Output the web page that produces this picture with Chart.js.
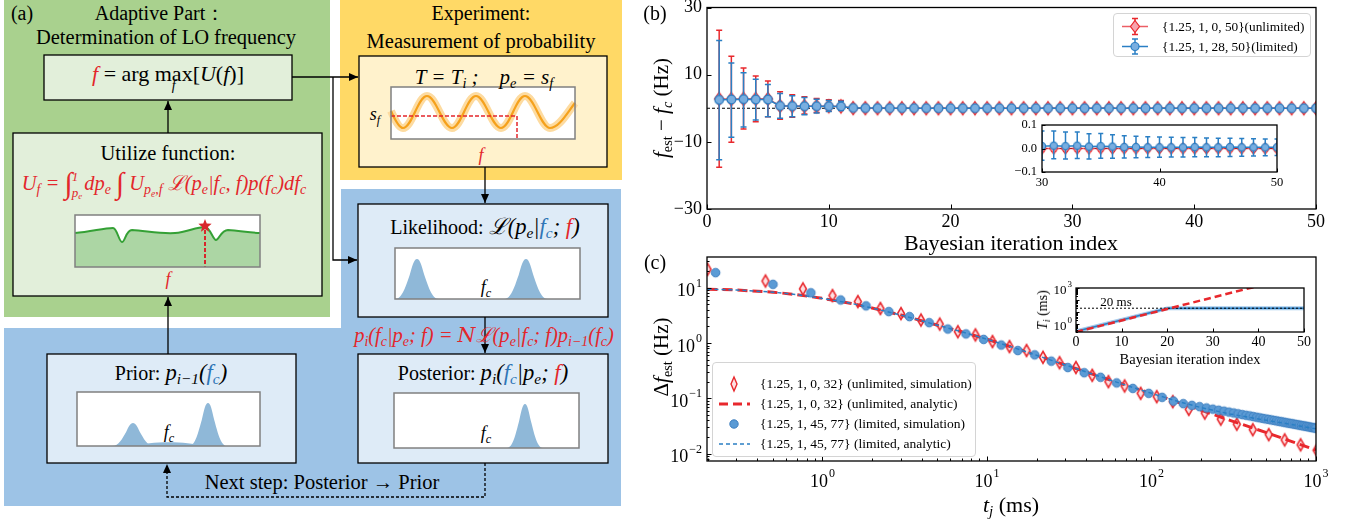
<!DOCTYPE html>
<html>
<head>
<meta charset="UTF-8">
<title>Adaptive Bayesian frequency estimation</title>
<script src="https://cdn.jsdelivr.net/npm/chart.js@4.4.1/dist/chart.umd.min.js"></script>
<style>
  body { margin: 0; background: #fff; }
  #page { position: relative; width: 1361px; height: 527px; overflow: hidden; font-family: "Liberation Serif", "Times New Roman", serif; color: #000; }
  .t { position: absolute; white-space: nowrap; transform: translate(-50%, -50%); font-size: 20px; line-height: 1; }
  .vt { position: absolute; white-space: nowrap; transform: translate(-50%, -50%) rotate(-90deg); font-size: 21px; line-height: 1; }
  .m { font-style: italic; }
  .mm { font-style: italic; font-size: 1.13em; }
  .r { color: #e3262b; }
  .bl { color: #2e75b6; }
  sub { font-size: 0.68em; vertical-align: -0.3em; line-height: 0; }
  sup { font-size: 0.68em; vertical-align: 0.5em; line-height: 0; }
  .int { font-size: 1.45em; vertical-align: -0.12em; }
  .lims { display: inline-flex; flex-direction: column; font-size: 13px; line-height: 1.25; vertical-align: middle; margin: 0 2px 0 -1px; }
  .under { display: inline-block; position: relative; }
  .under > span { position: absolute; left: 50%; top: 72%; transform: translateX(-50%); font-size: 14px; }
  canvas { position: absolute; }
  .lg { position: absolute; border: 1px solid #d4d4d4; border-radius: 4px; background: rgba(255,255,255,0.85); }
  .row { position: absolute; white-space: nowrap; line-height: 1; transform: translateY(-50%); }
  .sym { position: absolute; }
</style>
</head>
<body>
<div id="page">

  <!-- panel (a): schematic -->
  <svg width="640" height="527" style="position:absolute;left:0;top:0">
    <defs>
      <marker id="ah" markerUnits="userSpaceOnUse" markerWidth="9" markerHeight="8" refX="9" refY="4" orient="auto">
        <path d="M0,0 L9,4 L0,8 z" fill="#000"/>
      </marker>
    </defs>
    <rect x="4" y="0" width="326" height="317" fill="#a9d18e"/>
    <rect x="340" y="0" width="282" height="180" fill="#ffd966"/>
    <path d="M341 189 H621 V506 H4 V328 H341 Z" fill="#9dc3e6"/>

    <rect x="44" y="55" width="248" height="45" fill="#e2efda" stroke="#000" stroke-width="1.3"/>
    <rect x="13" y="133" width="309" height="163" fill="#e2efda" stroke="#000" stroke-width="1.3"/>
    <rect x="359" y="56" width="248" height="111" fill="#fff2cc" stroke="#000" stroke-width="1.3"/>
    <rect x="358" y="204" width="250" height="113" fill="#deebf7" stroke="#000" stroke-width="1.3"/>
    <rect x="47" y="354" width="249" height="109" fill="#deebf7" stroke="#000" stroke-width="1.3"/>
    <rect x="358" y="354" width="250" height="109" fill="#deebf7" stroke="#000" stroke-width="1.3"/>

    <!-- utilize function sketch -->
    <g transform="translate(75,215)">
      <rect x="0" y="0" width="185" height="52" fill="#fff"/>
      <path d="M0,18 C16,17 28,13 38,13 C42,13 44,27 47,27 C50,27 51,15 57,15 C72,16 86,19 100,18 C112,17 121,12 130,12 C135,12 138,25 141,25 C144,25 146,15 153,15 C166,16 176,18 185,18 L185,52 L0,52 Z" fill="#acd6a4"/>
      <path d="M0,18 C16,17 28,13 38,13 C42,13 44,27 47,27 C50,27 51,15 57,15 C72,16 86,19 100,18 C112,17 121,12 130,12 C135,12 138,25 141,25 C144,25 146,15 153,15 C166,16 176,18 185,18" fill="none" stroke="#34a035" stroke-width="2"/>
      <path d="M130,15 V52" stroke="#d8262c" stroke-width="2" stroke-dasharray="4,2"/>
      <polygon transform="translate(130,11)" points="0,-7 1.76,-2.43 6.66,-2.16 2.85,0.93 4.11,5.66 0,3 -4.11,5.66 -2.85,0.93 -6.66,-2.16 -1.76,-2.43" fill="#d8262c"/>
      <rect x="0" y="0" width="185" height="52" fill="none" stroke="#808080" stroke-width="1.5"/>
    </g>

    <!-- experiment sketch -->
    <g transform="translate(391,87)">
      <rect x="0" y="0" width="184" height="52" fill="#fff"/>
      <path d="M0,24 C4,33 8,41 12,41 C21,41 27,9 36,9 C45,9 52,41 61,41 C70,41 76,9 85,9 C94,9 101,41 110,41 C119,41 125,9 134,9 C143,9 150,41 159,41 C168,41 176,26 184,16" fill="none" stroke="#fddba0" stroke-width="8"/>
      <path d="M0,24 C4,33 8,41 12,41 C21,41 27,9 36,9 C45,9 52,41 61,41 C70,41 76,9 85,9 C94,9 101,41 110,41 C119,41 125,9 134,9 C143,9 150,41 159,41 C168,41 176,26 184,16" fill="none" stroke="#f5a11c" stroke-width="2.2"/>
      <path d="M0,29 H126 V52" fill="none" stroke="#e3262b" stroke-width="1.5" stroke-dasharray="4,2"/>
      <rect x="0" y="0" width="184" height="52" fill="none" stroke="#808080" stroke-width="1.5"/>
    </g>

    <!-- likelihood / prior / posterior sketches -->
    <g transform="translate(395,248)">
      <rect x="0" y="0" width="185" height="51" fill="#fff"/>
      <path id="lk1" fill="#8fb8d8"/><path id="lk2" fill="#8fb8d8"/>
      <rect x="0" y="0" width="185" height="51" fill="none" stroke="#808080" stroke-width="1.5"/>
    </g>
    <g transform="translate(77,392)">
      <rect x="0" y="0" width="183" height="54" fill="#fff"/>
      <path d="M58,54 C72,49 112,49 124,54 Z" fill="#8fb8d8"/>
      <path id="pr1" fill="#8fb8d8"/><path id="pr2" fill="#8fb8d8"/>
      <rect x="0" y="0" width="183" height="54" fill="none" stroke="#808080" stroke-width="1.5"/>
    </g>
    <g transform="translate(394,393)">
      <rect x="0" y="0" width="185" height="55" fill="#fff"/>
      <path id="po1" fill="#8fb8d8"/>
      <rect x="0" y="0" width="185" height="55" fill="none" stroke="#808080" stroke-width="1.5"/>
    </g>

    <!-- arrows -->
    <g stroke="#000" stroke-width="1.3" fill="none">
      <path d="M292,77 H358" marker-end="url(#ah)"/>
      <path d="M333,77 V260 H357" marker-end="url(#ah)"/>
      <path d="M168,133 V101" marker-end="url(#ah)"/>
      <path d="M168,354 V297" marker-end="url(#ah)"/>
      <path d="M485,167 V203" marker-end="url(#ah)"/>
      <path d="M485,317 V353" marker-end="url(#ah)"/>
      <path d="M485,463 V497 H167 V464" stroke-dasharray="3,2" marker-end="url(#ah)"/>
    </g>
  </svg>

  <div class="t" style="left:22px;top:13px">(a)</div>
  <div class="t" style="left:160px;top:13px">Adaptive Part：</div>
  <div class="t" style="left:166px;top:37px;font-size:20.5px">Determination of LO frequency</div>
  <div class="t" style="left:168px;top:74px;font-size:22px"><span class="m r">f</span> = arg <span class="under">max<span class="m">f</span></span>[<span class="m">U</span>(<span class="m">f</span>)]</div>
  <div class="t" style="left:168px;top:153px;font-size:20.5px">Utilize function:</div>
  <div class="t r m" style="left:164px;top:185px;font-size:20.5px">U<sub>f</sub> = <span class="int">∫</span><span class="lims"><span>1</span><span>p<sub>e</sub></span></span>dp<sub>e</sub> <span class="int">∫</span> U<sub>p<sub>e</sub>,f</sub> ℒ(p<sub>e</sub>|f<sub>c</sub>, f)p(f<sub>c</sub>)df<sub>c</sub></div>
  <div class="t r m" style="left:168px;top:279px;font-size:18px">f</div>

  <div class="t" style="left:481px;top:13px">Experiment:</div>
  <div class="t" style="left:481px;top:41px;font-size:20.5px">Measurement of probability</div>
  <div class="t m" style="left:484px;top:77px;font-size:21px">T = T<sub>i</sub> ;&nbsp;&nbsp;&nbsp; p<sub>e</sub> = s<sub>f</sub></div>
  <div class="t m" style="left:375px;top:114px;font-size:18px">s<sub>f</sub></div>
  <div class="t r m" style="left:481px;top:155px;font-size:18px">f</div>

  <div class="t" style="left:485px;top:227px">Likelihood: <span class="mm">ℒ(p<sub>e</sub>|<span class="bl">f<sub>c</sub></span>; <span class="r">f</span>)</span></div>
  <div class="t m" style="left:486px;top:287px;font-size:18px">f<sub>c</sub></div>
  <div class="t r m" style="left:484px;top:335px;font-size:20.5px">p<sub>i</sub>(f<sub>c</sub>|p<sub>e</sub>; f) = <span style="font-family:'DejaVu Serif'">N</span>ℒ(p<sub>e</sub>|f<sub>c</sub>; f)p<sub>i−1</sub>(f<sub>c</sub>)</div>
  <div class="t" style="left:171px;top:373px">Prior: <span class="mm">p<sub>i−1</sub>(<span class="bl">f<sub>c</sub></span>)</span></div>
  <div class="t m" style="left:169px;top:432px;font-size:18px">f<sub>c</sub></div>
  <div class="t" style="left:483px;top:373px">Posterior: <span class="mm">p<sub>i</sub>(<span class="bl">f<sub>c</sub></span>|p<sub>e</sub>; <span class="r">f</span>)</span></div>
  <div class="t m" style="left:486px;top:433px;font-size:18px">f<sub>c</sub></div>
  <div class="t" style="left:322px;top:482px;font-size:20.5px">Next step: Posterior → Prior</div>

  <!-- panel (b) -->
  <canvas id="chartB" width="721" height="250" style="left:640px;top:0"></canvas>
  <canvas id="chartBin" width="300" height="85" style="left:990px;top:110px"></canvas>
  <div class="t" style="left:655px;top:13px">(b)</div>
  <div class="vt" style="left:661px;top:108px"><span class="m">f</span><sub>est</sub> − <span class="m">f<sub>c</sub></span> (Hz)</div>
  <div class="t" style="left:1011px;top:243px;font-size:22px">Bayesian iteration index</div>
  <div class="lg" style="left:1113px;top:13px;width:196px;height:42px;font-size:13.3px">
    <svg class="sym" width="40" height="42" style="left:0;top:0">
      <path d="M8,12.5 H34" stroke="rgba(230,40,50,0.75)" stroke-width="1.5"/>
      <path d="M21,4.5 V20.5 M18,4.5 H24 M18,20.5 H24" stroke="#e8282d" stroke-width="1.5"/>
      <path d="M21,6.5 L25.5,12.5 L21,18.5 L16.5,12.5 Z" fill="#f7a3ad" stroke="#e8282d" stroke-width="1.2"/>
      <path d="M8,32.5 H34" stroke="#2a7fc4" stroke-width="1.5"/>
      <path d="M21,25 V40 M18,25 H24 M18,40 H24" stroke="#2a7fc4" stroke-width="1.5"/>
      <circle cx="21" cy="32.5" r="4" fill="#79aee0" stroke="#2a7fc4" stroke-width="1.2"/>
    </svg>
    <div class="row" style="left:48px;top:13px">{1.25, 1, 0, 50}(unlimited)</div>
    <div class="row" style="left:48px;top:33px">{1.25, 1, 28, 50}(limited)</div>
  </div>

  <!-- panel (c) -->
  <canvas id="chartC" width="721" height="277" style="left:640px;top:250px"></canvas>
  <canvas id="chartCin" width="290" height="75" style="left:1030px;top:278px"></canvas>
  <div class="t" style="left:655px;top:262px">(c)</div>
  <div class="vt" style="left:661px;top:357px">Δ<span class="m">f</span><sub>est</sub> (Hz)</div>
  <div class="t" style="left:1011px;top:505px;font-size:22px"><span class="m">t<sub>j</sub></span> (ms)</div>
  <div class="vt" style="left:1043px;top:310px;font-size:14px"><span class="m">T<sub>i</sub></span> (ms)</div>
  <div class="t" style="left:1190px;top:359px;font-size:14.5px">Bayesian iteration index</div>
  <div class="t" style="left:1116px;top:301px;font-size:13px">20 ms</div>
  <div class="lg" style="left:712px;top:362px;width:262px;height:93px;font-size:13.5px">
    <svg class="sym" width="44" height="93" style="left:0;top:0">
      <path d="M21,14 L24,21 L21,28 L18,21 Z" fill="#fde0e2" stroke="#e8282d" stroke-width="1.4"/>
      <path d="M6,41 H37" stroke="#e8282d" stroke-width="3" stroke-dasharray="9,5"/>
      <circle cx="21" cy="61" r="4.2" fill="#5b9bd5" stroke="#3d7ebf" stroke-width="1"/>
      <path d="M6,81 H37" stroke="#2a7fc4" stroke-width="1.5" stroke-dasharray="4,3"/>
    </svg>
    <div class="row" style="left:47px;top:21px">{1.25, 1, 0, 32} (unlimited, simulation)</div>
    <div class="row" style="left:47px;top:41px">{1.25, 1, 0, 32} (unlimited, analytic)</div>
    <div class="row" style="left:47px;top:61px">{1.25, 1, 45, 77} (limited, simulation)</div>
    <div class="row" style="left:47px;top:81px">{1.25, 1, 45, 77} (limited, analytic)</div>
  </div>
</div>

<script>
// ---------- data: panel (b), Bayesian iterations ----------
const iterations = [1,2,3,4,5,6,7,8,9,10,11,12,13,14,15,16,17,18,19,20,21,22,23,24,25,26,27,28,29,30,31,32,33,34,35,36,37,38,39,40,41,42,43,44,45,46,47,48,49,50];
const unlimitedMean = [2.8,2.7,2.8,2.8,2.8,0.7,0.65,0.6,0.6,0.6,0.55,0.05,0.02,0.01,0.01,0,0,0,0,0,0,0,0,0,0,0,0,0,0,0,0,0,0,0,0,0,0,0,0,0,0,0,0,0,0,0,0,0,0,0];
const unlimitedHi = [23.2,15.5,12.0,9.6,8.1,4.9,4.0,3.4,2.9,2.5,2.3,0.5,0.35,0.25,0.18,0.12,0.09,0.07,0.05,0.04,0.035,0.03,0.025,0.02,0.02,0.018,0.016,0.015,0.014,0.013,0.012,0.012,0.012,0.011,0.011,0.011,0.01,0.01,0.01,0.01,0.01,0.01,0.01,0.01,0.01,0.01,0.01,0.01,0.01,0.01];
const unlimitedLo = [-17.6,-10.1,-6.2,-4.0,-2.5,-3.3,-2.7,-1.7,-1.3,-0.9,-0.6,-0.4,-0.3,-0.22,-0.16,-0.12,-0.09,-0.07,-0.05,-0.04,-0.035,-0.03,-0.025,-0.02,-0.02,-0.018,-0.016,-0.015,-0.014,-0.013,-0.012,-0.012,-0.012,-0.011,-0.011,-0.011,-0.01,-0.01,-0.01,-0.01,-0.01,-0.01,-0.01,-0.01,-0.01,-0.01,-0.01,-0.01,-0.01,-0.01];
const limitedMean = [2.5,2.6,2.7,2.6,2.6,0.7,0.65,0.6,0.6,0.6,0.55,0.08,0.05,0.04,0.03,0.025,0.02,0.02,0.015,0.015,0.012,0.012,0.012,0.01,0.01,0.01,0.01,0.01,0.01,0.01,0.012,0.01,0.012,0.008,0.01,0.008,0.006,0.006,0.005,0.005,0.005,0.005,0.006,0.005,0.005,0.006,0.005,0.005,0.005,0.005];
const limitedHi = [20.2,13.5,10.6,8.6,7.1,4.4,3.7,3.2,2.7,2.3,2.1,0.6,0.45,0.35,0.28,0.22,0.18,0.15,0.13,0.11,0.1,0.09,0.085,0.08,0.078,0.076,0.074,0.072,0.07,0.075,0.074,0.07,0.07,0.063,0.064,0.058,0.054,0.052,0.05,0.049,0.048,0.047,0.047,0.045,0.044,0.044,0.043,0.041,0.04,0.04];
const limitedLo = [-15.3,-8.6,-5.6,-3.5,-2.5,-3.0,-2.5,-1.9,-1.4,-1.0,-0.7,-0.45,-0.35,-0.28,-0.22,-0.17,-0.14,-0.12,-0.1,-0.09,-0.08,-0.075,-0.07,-0.065,-0.06,-0.058,-0.056,-0.055,-0.054,-0.05,-0.044,-0.045,-0.043,-0.045,-0.041,-0.042,-0.04,-0.039,-0.038,-0.037,-0.036,-0.036,-0.035,-0.035,-0.035,-0.034,-0.033,-0.032,-0.031,-0.03];
const bXTicks = [0, 10, 20, 30, 40, 50];
const bYTicks = [-30, -10, 10, 30];
const bInXTicks = [30, 40, 50];
const bInYTicks = [-0.1, 0, 0.1];
const bInYLabels = ['−0.1', '0.0', '0.1'];

// ---------- data: panel (c), uncertainty vs total time ----------
const unlimitedT = [0.2,0.45,0.76,1.15,1.64,2.25,3.0,3.97,5.16,6.65,8.5,10.8,13.7,17.4,21.9,27.6,34.7,43.6,54.7,68.6,85.9,107.6,134.7,168.5,210.9,263.8,329.9,412.6,516,645,806,1008];
const unlimitedSim = [21.5,13.2,9.5,7.2,5.6,4.2,3.4,2.6,2.2,1.6,1.4,1.06,0.86,0.73,0.55,0.44,0.36,0.26,0.20,0.167,0.123,0.107,0.087,0.063,0.054,0.042,0.034,0.027,0.022,0.0177,0.0144,0.0115];
const limitedT = [0.224,0.50,0.85,1.29,1.84,2.53,3.38,4.45,5.78,7.45,9.54,12.2,15.4,19.5,24.6,31.0,39.0,49.0,61.4,77.0,96.2,116,136,156,176,196,216,236,256,276,296,316,336,356,376,396,416,436,456,476,496,516,536,556,576,596,616,636,656,676,696,716,736,756,776,796,816,836,856,876,896,916,936,956,976,996];
const limitedSim = [18.7,11.5,8.1,6.0,4.7,3.7,3.0,2.33,1.79,1.46,1.16,0.92,0.73,0.61,0.47,0.36,0.29,0.24,0.19,0.151,0.123,0.104,0.089,0.080,0.0745,0.0706,0.0669,0.0637,0.0609,0.0585,0.0563,0.0543,0.0525,0.0508,0.0493,0.048,0.0467,0.0455,0.0443,0.0433,0.0423,0.0415,0.0406,0.0398,0.039,0.0383,0.0376,0.037,0.0363,0.0357,0.0352,0.0347,0.0341,0.0336,0.0331,0.0327,0.0322,0.0318,0.0314,0.031,0.0306,0.0302,0.0298,0.0295,0.0292,0.0288];
const analyticT = [0.2,0.3,0.5,0.7,1,1.5,2,3,5,7,10,15,20,30,50,70,100,150,200,300,500,700,1000];
const unlimitedAnalytic = [9.4,9.1,8.3,7.5,6.4,5.2,4.3,3.2,2.1,1.6,1.17,0.8,0.6,0.40,0.24,0.172,0.123,0.082,0.061,0.040,0.024,0.0168,0.0116];
const limitedAnalytic = [9.4,9.1,8.3,7.5,6.4,5.2,4.3,3.2,2.1,1.6,1.17,0.8,0.6,0.40,0.24,0.172,0.123,0.085,0.068,0.052,0.040,0.034,0.028];
const cXTicks = [1, 10, 100, 1000];
const cXLabels = [['10', '0'], ['10', '1'], ['10', '2'], ['10', '3']];
const cYTicks = [0.01, 0.1, 1, 10];
const cYLabels = [['10', '−2'], ['10', '−1'], ['10', '0'], ['10', '1']];

// inset (c): interrogation time per iteration
const insetIter = [0, 10, 20, 30, 40, 50];
const unlimitedTi = [0.2, 1.86, 17.3, 161, 1500, 14000];
const limitedIter = [0, 10, 20, 21, 30, 40, 50];
const limitedTi = [0.224, 2.08, 19.4, 20, 20, 20, 20];
const limitTi = 20;
const cInXTicks = [0, 10, 20, 30, 40, 50];
const cInYTicks = [1, 1000];
const cInYLabels = [['10', '0'], ['10', '3']];

// ---------- sketch bells for panel (a) ----------
function bell(x, s, h, b) {
  const p = (a, c) => a.toFixed(1) + ',' + c.toFixed(1);
  return 'M' + p(x - 3 * s, b) + ' C' + p(x - 2 * s, b) + ' ' + p(x - 1.5 * s, b - 0.35 * h) + ' ' + p(x - s, b - 0.6 * h) +
    ' C' + p(x - 0.6 * s, b - 0.85 * h) + ' ' + p(x - 0.4 * s, b - h) + ' ' + p(x, b - h) +
    ' C' + p(x + 0.4 * s, b - h) + ' ' + p(x + 0.6 * s, b - 0.85 * h) + ' ' + p(x + s, b - 0.6 * h) +
    ' C' + p(x + 1.5 * s, b - 0.35 * h) + ' ' + p(x + 2 * s, b) + ' ' + p(x + 3 * s, b) + ' Z';
}
document.getElementById('lk1').setAttribute('d', bell(22, 7.3, 40, 51));
document.getElementById('lk2').setAttribute('d', bell(131, 7.3, 40, 51));
document.getElementById('pr1').setAttribute('d', bell(56, 7, 23, 54));
document.getElementById('pr2').setAttribute('d', bell(131, 6.3, 43, 54));
document.getElementById('po1').setAttribute('d', bell(131, 6, 44, 55));

// ---------- marker images ----------
function diamond(w, h, fill, stroke, lw) {
  const c = document.createElement('canvas');
  c.width = Math.ceil(w + 2 * lw + 2); c.height = Math.ceil(h + 2 * lw + 2);
  const g = c.getContext('2d'), cx = c.width / 2, cy = c.height / 2;
  g.beginPath(); g.moveTo(cx, cy - h / 2); g.lineTo(cx + w / 2, cy); g.lineTo(cx, cy + h / 2); g.lineTo(cx - w / 2, cy); g.closePath();
  g.fillStyle = fill; g.fill(); g.lineWidth = lw; g.strokeStyle = stroke; g.stroke();
  return c;
}
function dot(r, fill, stroke, lw) {
  const c = document.createElement('canvas');
  c.width = c.height = Math.ceil(2 * r + 2 * lw + 2);
  const g = c.getContext('2d');
  g.beginPath(); g.arc(c.width / 2, c.height / 2, r, 0, Math.PI * 2);
  g.fillStyle = fill; g.fill(); g.lineWidth = lw; g.strokeStyle = stroke; g.stroke();
  return c;
}
const RED = '#e8282d', BLUE = '#2a7fc4';
const bDia = diamond(9, 13, '#f7a3ad', RED, 1.3);
const bDot = dot(4.3, '#79aee0', BLUE, 1.2);
const bDiaS = diamond(8, 11, '#f7a3ad', RED, 1.2);
const bDotS = dot(3.6, '#79aee0', BLUE, 1.1);
const cDia = diamond(7, 12, '#fde0e2', RED, 1.5);
const cDot = dot(4.3, '#5b9bd5', '#3d7ebf', 1);

// ---------- plugins ----------
const FONT = '"Liberation Serif"';
function drawLabel(ctx, lab, px, py, axis, fs) {
  const base = Array.isArray(lab) ? lab[0] : String(lab);
  const exp = Array.isArray(lab) ? lab[1] : '';
  const fe = Math.round(fs * 0.68);
  ctx.font = fs + 'px ' + FONT;
  const wb = ctx.measureText(base).width;
  ctx.font = fe + 'px ' + FONT;
  const we = exp ? ctx.measureText(exp).width + 1 : 0;
  const w = wb + we;
  let x0, ym;
  if (axis === 'x') { x0 = px - w / 2; ym = py + fs * 0.55 + (exp ? fs * 0.3 : 0); }
  else { x0 = px - w; ym = py + (exp ? fs * 0.22 : 0); }
  ctx.textBaseline = 'middle'; ctx.textAlign = 'left';
  ctx.font = fs + 'px ' + FONT;
  ctx.fillText(base, x0, ym);
  if (exp) { ctx.font = fe + 'px ' + FONT; ctx.fillText(exp, x0 + wb + 1, ym - fs * 0.45); }
}
function minorLog(lo, hi) {
  const out = [];
  for (let e = -3; e <= 4; e++) for (let k = 2; k <= 9; k++) {
    const v = k * Math.pow(10, e);
    if (v >= lo && v <= hi) out.push(v);
  }
  return out;
}

const frame = {
  id: 'frame',
  beforeDraw(chart, args, o) {
    if (!o.fill) return;
    const { ctx, chartArea: a } = chart;
    ctx.save(); ctx.fillStyle = '#fff';
    ctx.fillRect(a.left, a.top, a.right - a.left, a.bottom - a.top);
    ctx.restore();
  },
  afterDraw(chart, args, o) {
    const { ctx, chartArea: a } = chart;
    ctx.save();
    ctx.strokeStyle = '#000'; ctx.fillStyle = '#000';
    ctx.lineWidth = 1;
    ['x', 'y'].forEach(k => {
      const s = chart.scales[k], t = o[k];
      const tick = (v, len) => {
        const p = Math.round(s.getPixelForValue(v)) + 0.5;
        ctx.beginPath();
        if (k === 'x') { ctx.moveTo(p, a.bottom); ctx.lineTo(p, a.bottom - len); }
        else { ctx.moveTo(a.left, p); ctx.lineTo(a.left + len, p); }
        ctx.stroke();
      };
      (t.minor || []).forEach(v => tick(v, t.minorLen || 2.5));
      t.major.forEach(v => tick(v, t.len || 4.5));
      t.major.forEach((v, i) => {
        const lab = t.labels ? t.labels[i] : String(v);
        if (lab === null) return;
        const p = s.getPixelForValue(v);
        if (k === 'x') drawLabel(ctx, lab, p, a.bottom + t.gap, 'x', t.font);
        else drawLabel(ctx, lab, a.left - t.gap, p, 'y', t.font);
      });
    });
    ctx.lineWidth = o.lw || 1.3;
    ctx.strokeRect(a.left, a.top, a.right - a.left, a.bottom - a.top);
    ctx.restore();
  }
};

const errorBars = {
  id: 'errorBars',
  beforeDatasetDraw(chart, args) {
    const ds = chart.data.datasets[args.index];
    if (!ds.errHi) return;
    const { ctx, chartArea: a } = chart;
    const xs = chart.scales.x, ys = chart.scales.y, cap = ds.errCap || 3;
    ctx.save();
    ctx.beginPath(); ctx.rect(a.left, a.top, a.right - a.left, a.bottom - a.top); ctx.clip();
    ctx.strokeStyle = ds.errColor; ctx.lineWidth = 1.5;
    ds.data.forEach((pt, i) => {
      const x = xs.getPixelForValue(pt.x);
      const y1 = ys.getPixelForValue(ds.errHi[i]), y2 = ys.getPixelForValue(ds.errLo[i]);
      ctx.beginPath();
      ctx.moveTo(x, y1); ctx.lineTo(x, y2);
      ctx.moveTo(x - cap, y1); ctx.lineTo(x + cap, y1);
      ctx.moveTo(x - cap, y2); ctx.lineTo(x + cap, y2);
      ctx.stroke();
    });
    ctx.restore();
  }
};

function opts(pad, xs, ys, frameCfg) {
  return {
    responsive: false, animation: false, events: [],
    layout: { padding: pad },
    scales: { x: Object.assign({ display: false }, xs), y: Object.assign({ display: false }, ys) },
    plugins: { legend: { display: false }, tooltip: { enabled: false }, frame: frameCfg }
  };
}
const pts = (xs, ys) => xs.map((x, i) => ({ x: x, y: ys[i] }));

// ---------- panel (b) ----------
function bSets(small) {
  return [
    { data: [{ x: 0, y: 0 }, { x: 50, y: 0 }], showLine: true, borderColor: '#000', borderWidth: 1, borderDash: [3, 2], pointRadius: 0, order: 3 },
    { data: pts(iterations, unlimitedMean), showLine: true, borderColor: 'rgba(230,40,50,0.75)', borderWidth: 1.5,
      pointStyle: small ? bDiaS : bDia, pointRadius: 6, errHi: unlimitedHi, errLo: unlimitedLo, errColor: RED, errCap: small ? 2.5 : 3, order: 2, clip: 0 },
    { data: pts(iterations, limitedMean), showLine: true, borderColor: BLUE, borderWidth: 1.5,
      pointStyle: small ? bDotS : bDot, pointRadius: 5, errHi: limitedHi, errLo: limitedLo, errColor: BLUE, errCap: small ? 2.5 : 3, order: 1, clip: 0 }
  ];
}
new Chart(document.getElementById('chartB'), {
  type: 'scatter',
  data: { datasets: bSets(false) },
  options: opts({ left: 67, top: 7, right: 45, bottom: 41 },
    { type: 'linear', min: 0, max: 50 }, { type: 'linear', min: -30, max: 30 },
    { x: { major: bXTicks, font: 18, gap: 3 }, y: { major: bYTicks, labels: bYTicks.map(v => v < 0 ? '−' + (-v) : String(v)), font: 18, gap: 5 } }),
  plugins: [frame, errorBars]
});
new Chart(document.getElementById('chartBin'), {
  type: 'scatter',
  data: { datasets: bSets(true) },
  options: opts({ left: 52, top: 15, right: 13, bottom: 23 },
    { type: 'linear', min: 30, max: 50 }, { type: 'linear', min: -0.1, max: 0.1 },
    { fill: true, x: { major: bInXTicks, font: 12.5, gap: 3.5, len: 3.5 }, y: { major: bInYTicks, labels: bInYLabels, font: 12.5, gap: 5, len: 3.5 } }),
  plugins: [frame, errorBars]
});

// ---------- panel (c) ----------
new Chart(document.getElementById('chartC'), {
  type: 'scatter',
  data: { datasets: [
    { data: pts(unlimitedT, unlimitedSim), pointStyle: cDia, pointRadius: 6, order: 4, clip: 0 },
    { data: pts(analyticT, unlimitedAnalytic), showLine: true, borderColor: RED, borderWidth: 3, borderDash: [10, 5], pointRadius: 0, order: 3, clip: 0 },
    { data: pts(limitedT, limitedSim), pointStyle: cDot, pointRadius: 5, order: 2, clip: 0 },
    { data: pts(analyticT, limitedAnalytic), showLine: true, borderColor: BLUE, borderWidth: 1.5, borderDash: [4, 3], pointRadius: 0, order: 1, clip: 0 }
  ] },
  options: opts({ left: 67, top: 7, right: 45, bottom: 66 },
    { type: 'logarithmic', min: 0.1986, max: 1000 }, { type: 'logarithmic', min: 0.00735, max: 35.9 },
    { x: { major: cXTicks, labels: cXLabels, minor: minorLog(0.1986, 1000), font: 18, gap: 5.5 },
      y: { major: cYTicks, labels: cYLabels, minor: minorLog(0.00735, 35.9), font: 18, gap: 5 } }),
  plugins: [frame]
});
new Chart(document.getElementById('chartCin'), {
  type: 'scatter',
  data: { datasets: [
    { data: [{ x: 0, y: limitTi }, { x: 50, y: limitTi }], showLine: true, borderColor: '#000', borderWidth: 1, borderDash: [2, 2], pointRadius: 0, order: 1 },
    { data: pts(limitedIter, limitedTi), showLine: true, borderColor: 'rgba(90,160,220,0.55)', borderWidth: 4, pointRadius: 0, order: 3, clip: 0 },
    { data: pts(limitedIter, limitedTi), showLine: true, borderColor: BLUE, borderWidth: 1.6, pointRadius: 0, order: 2, clip: 0 },
    { data: pts(insetIter, unlimitedTi), showLine: true, borderColor: RED, borderWidth: 2.5, borderDash: [7, 4], pointRadius: 0, order: 0, clip: 0 }
  ] },
  options: opts({ left: 46, top: 10, right: 16, bottom: 21 },
    { type: 'linear', min: 0, max: 50 }, { type: 'logarithmic', min: 0.2, max: 1000 },
    { fill: true, x: { major: cInXTicks, font: 14, gap: 2.5, len: 3.5 },
      y: { major: [1, 10, 100, 1000], labels: [cInYLabels[0], null, null, cInYLabels[1]], minor: minorLog(0.2, 1000), font: 13, gap: 4, len: 3.5, minorLen: 2 } }),
  plugins: [frame]
});
</script>
</body>
</html>
